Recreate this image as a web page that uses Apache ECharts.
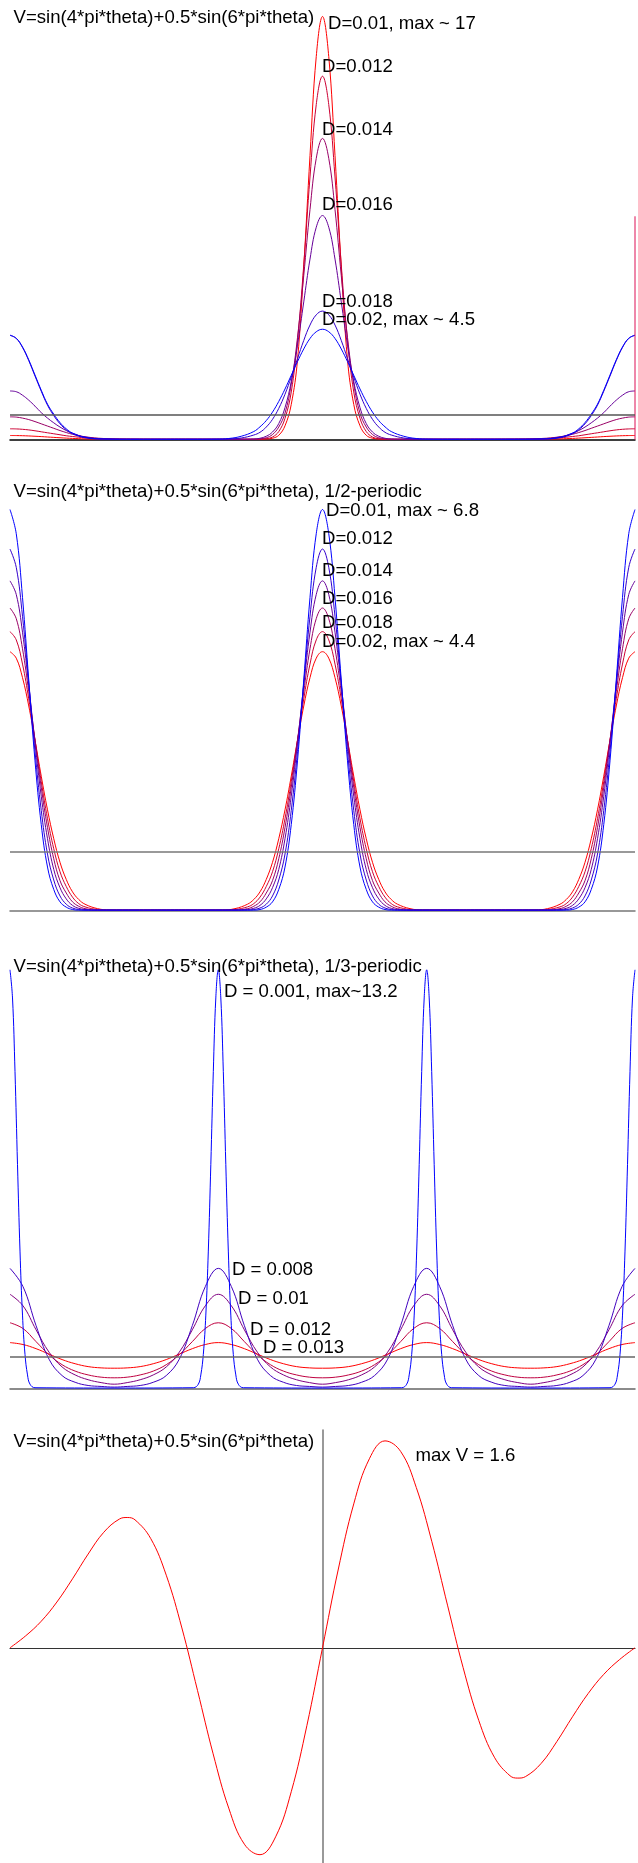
<!DOCTYPE html>
<html>
<head>
<meta charset="utf-8">
<title>V = sin(4*pi*theta)+0.5*sin(6*pi*theta)</title>
<script src="https://cdn.jsdelivr.net/npm/echarts@6/dist/echarts.min.js"></script>
<style>
  html, body { margin: 0; padding: 0; background: #fff; }
  #chart { width: 638px; height: 1863px; }
</style>
</head>
<body>
<div id="chart"></div>
<script>
// panel 1: periodic, D = 0.01 .. 0.02
const theta1 = [-0.5,-0.49,-0.48,-0.47,-0.46,-0.45,-0.44,-0.43,-0.42,-0.41,-0.4,-0.38,-0.35,-0.3,-0.25,-0.2,-0.17,-0.15,-0.13,-0.11,-0.1,-0.09,-0.08,-0.07,-0.06,-0.05,-0.04,-0.03,-0.02,-0.01,0,
  0.01,0.02,0.03,0.04,0.05,0.06,0.07,0.08,0.09,0.1,0.11,0.13,0.15,0.17,0.2,0.25,0.3,0.35,0.38,0.4,0.41,0.42,0.43,0.44,0.45,0.46,0.47,0.48,0.49,0.5]
const p1D010 = [0.16,0.158,0.152,0.143,0.13,0.117,0.1,0.085,0.07,0.056,0.044,0.025,0.012,0.01,0.01,0.01,0.01,0.01,0.01,0.01,0.01,0.02,0.05,0.17,0.55,1.41,3.2,6.93,11.41,15.39,17,
  15.39,11.41,6.93,3.2,1.41,0.55,0.17,0.05,0.02,0.01,0.01,0.01,0.01,0.01,0.01,0.01,0.01,0.012,0.025,0.044,0.056,0.07,0.085,0.1,0.117,0.13,0.143,0.152,0.158,0.16]
const p1D012 = [0.43,0.425,0.41,0.385,0.35,0.31,0.27,0.23,0.19,0.15,0.12,0.07,0.025,0.01,0.01,0.01,0.01,0.01,0.01,0.01,0.015,0.035,0.1,0.32,0.85,1.91,3.97,7.02,10.55,13.46,14.6,
  13.46,10.55,7.02,3.97,1.91,0.85,0.32,0.1,0.035,0.015,0.01,0.01,0.01,0.01,0.01,0.01,0.01,0.025,0.07,0.12,0.15,0.19,0.23,0.27,0.31,0.35,0.385,0.41,0.425,0.43]
const p1D014 = [0.91,0.9,0.86,0.8,0.72,0.63,0.54,0.45,0.36,0.28,0.21,0.11,0.04,0.015,0.01,0.01,0.01,0.01,0.01,0.012,0.025,0.07,0.2,0.5,1.06,2.23,4.1,6.59,9.24,11.3,12.1,
  11.3,9.24,6.59,4.1,2.23,1.06,0.5,0.2,0.07,0.025,0.012,0.01,0.01,0.01,0.01,0.01,0.015,0.04,0.11,0.21,0.28,0.36,0.45,0.54,0.63,0.72,0.8,0.86,0.9,0.91]
const p1D016 = [1.95,1.92,1.78,1.58,1.34,1.08,0.86,0.67,0.5,0.36,0.25,0.1,0.03,0.01,0.01,0.01,0.01,0.01,0.012,0.02,0.05,0.13,0.3,0.64,1.28,2.33,3.79,5.53,7.25,8.53,9,
  8.53,7.25,5.53,3.79,2.33,1.28,0.64,0.3,0.13,0.05,0.02,0.012,0.01,0.01,0.01,0.01,0.01,0.03,0.1,0.25,0.36,0.5,0.67,0.86,1.08,1.34,1.58,1.78,1.92,1.95]
const p1D018 = [4.19,4.06,3.7,3.17,2.55,1.94,1.38,0.96,0.63,0.39,0.23,0.07,0.015,0.01,0.01,0.01,0.01,0.02,0.06,0.18,0.29,0.5,0.81,1.25,1.82,2.51,3.25,3.98,4.6,5.01,5.16,
  5.01,4.6,3.98,3.25,2.51,1.82,1.25,0.81,0.5,0.29,0.18,0.06,0.02,0.01,0.01,0.01,0.01,0.015,0.07,0.23,0.39,0.63,0.96,1.38,1.94,2.55,3.17,3.7,4.06,4.19]
const p1D020 = [4.19,4.07,3.72,3.2,2.59,1.98,1.42,1.02,0.68,0.43,0.26,0.09,0.02,0.01,0.01,0.01,0.015,0.04,0.13,0.32,0.51,0.76,1.1,1.53,2.03,2.58,3.13,3.64,4.06,4.33,4.43,
  4.33,4.06,3.64,3.13,2.58,2.03,1.53,1.1,0.76,0.51,0.32,0.13,0.04,0.015,0.01,0.01,0.01,0.02,0.09,0.26,0.43,0.68,1.02,1.42,1.98,2.59,3.2,3.72,4.07,4.19]
const p1WallX = [0.5, 0.5]
const p1WallY = [8.97, 0]

// panel 2: 1/2-periodic
const theta2 = [-0.5,-0.49,-0.48,-0.47,-0.46,-0.45,-0.44,-0.43,-0.42,-0.41,-0.4,-0.39,-0.38,-0.36,-0.34,-0.3,-0.25,-0.2,-0.16,-0.14,-0.12,-0.11,-0.1,-0.09,-0.08,-0.07,-0.06,-0.05,-0.04,-0.03,-0.02,-0.01,0,
  0.01,0.02,0.03,0.04,0.05,0.06,0.07,0.08,0.09,0.1,0.11,0.12,0.14,0.16,0.2,0.25,0.3,0.34,0.36,0.38,0.39,0.4,0.41,0.42,0.43,0.44,0.45,0.46,0.47,0.48,0.49,0.5]
const p2D010 = [6.8,6.39,5.31,3.91,2.54,1.46,0.74,0.36,0.15,0.06,0.02,0.01,0.01,0.01,0.01,0.01,0.01,
  0.01,0.01,0.01,0.01,0.01,0.02,0.06,0.15,0.36,0.74,1.46,2.54,3.91,5.31,6.39,6.8,
  6.39,5.31,3.91,2.54,1.46,0.74,0.36,0.15,0.06,0.02,0.01,0.01,0.01,0.01,0.01,0.01,
  0.01,0.01,0.01,0.01,0.01,0.02,0.06,0.15,0.36,0.74,1.46,2.54,3.91,5.31,6.39,6.8]
const p2D012 = [6.13,5.82,4.99,3.86,2.7,1.7,0.96,0.52,0.25,0.11,0.045,0.02,0.01,0.01,0.01,0.01,0.01,
  0.01,0.01,0.01,0.01,0.02,0.045,0.11,0.25,0.52,0.96,1.7,2.7,3.86,4.99,5.82,6.13,
  5.82,4.99,3.86,2.7,1.7,0.96,0.52,0.25,0.11,0.045,0.02,0.01,0.01,0.01,0.01,0.01,
  0.01,0.01,0.01,0.01,0.02,0.045,0.11,0.25,0.52,0.96,1.7,2.7,3.86,4.99,5.82,6.13]
const p2D014 = [5.59,5.36,4.72,3.82,2.84,1.94,1.22,0.7,0.39,0.2,0.09,0.04,0.02,0.01,0.01,0.01,0.01,
  0.01,0.01,0.01,0.02,0.04,0.09,0.2,0.39,0.7,1.22,1.94,2.84,3.82,4.72,5.36,5.59,
  5.36,4.72,3.82,2.84,1.94,1.22,0.7,0.39,0.2,0.09,0.04,0.02,0.01,0.01,0.01,0.01,
  0.01,0.01,0.01,0.02,0.04,0.09,0.2,0.39,0.7,1.22,1.94,2.84,3.82,4.72,5.36,5.59]
const p2D016 = [5.13,4.95,4.44,3.71,2.89,2.09,1.41,0.88,0.51,0.3,0.15,0.075,0.035,0.01,0.01,0.01,0.01,
  0.01,0.01,0.01,0.035,0.075,0.15,0.3,0.51,0.88,1.41,2.09,2.89,3.71,4.44,4.95,5.13,
  4.95,4.44,3.71,2.89,2.09,1.41,0.88,0.51,0.3,0.15,0.075,0.035,0.01,0.01,0.01,0.01,
  0.01,0.01,0.01,0.035,0.075,0.15,0.3,0.51,0.88,1.41,2.09,2.89,3.71,4.44,4.95,5.13]
const p2D018 = [4.73,4.59,4.18,3.59,2.89,2.19,1.56,1.05,0.66,0.41,0.23,0.12,0.065,0.02,0.01,0.01,0.01,
  0.01,0.01,0.02,0.065,0.12,0.23,0.41,0.66,1.05,1.56,2.19,2.89,3.59,4.18,4.59,4.73,
  4.59,4.18,3.59,2.89,2.19,1.56,1.05,0.66,0.41,0.23,0.12,0.065,0.02,0.01,0.01,0.01,
  0.01,0.01,0.02,0.065,0.12,0.23,0.41,0.66,1.05,1.56,2.19,2.89,3.59,4.18,4.59,4.73]
const p2D020 = [4.39,4.28,3.95,3.47,2.89,2.28,1.71,1.22,0.82,0.53,0.32,0.19,0.11,0.035,0.012,0.01,0.01,
  0.01,0.012,0.035,0.11,0.19,0.32,0.53,0.82,1.22,1.71,2.28,2.89,3.47,3.95,4.28,4.39,
  4.28,3.95,3.47,2.89,2.28,1.71,1.22,0.82,0.53,0.32,0.19,0.11,0.035,0.012,0.01,0.01,
  0.01,0.012,0.035,0.11,0.19,0.32,0.53,0.82,1.22,1.71,2.28,2.89,3.47,3.95,4.28,4.39]

// panel 3: 1/3-periodic
const theta3 = [-0.5,-0.4792,-0.4583,-0.4375,-0.4167,-0.3958,-0.375,-0.3542,-0.3333,-0.3125,-0.2917,-0.2708,-0.25,-0.2292,-0.2083,-0.1875,-0.1667,
  -0.1458,-0.125,-0.1042,-0.0833,-0.0625,-0.0417,-0.0208,0,0.0208,0.0417,0.0625,0.0833,0.1042,0.125,0.1458,0.1667,
  0.1875,0.2083,0.2292,0.25,0.2708,0.2917,0.3125,0.3333,0.3542,0.375,0.3958,0.4167,0.4375,0.4583,0.4792,0.5]
const p3D008 = [3.77,3.2,1.98,0.93,0.42,0.21,0.11,0.08,0.06,0.08,0.11,0.21,0.42,0.93,1.98,3.2,3.77,
  3.2,1.98,0.93,0.42,0.21,0.11,0.08,0.06,0.08,0.11,0.21,0.42,0.93,1.98,3.2,3.77,
  3.2,1.98,0.93,0.42,0.21,0.11,0.08,0.06,0.08,0.11,0.21,0.42,0.93,1.98,3.2,3.77]
const p3D010 = [2.96,2.6,1.85,1.15,0.69,0.44,0.29,0.2,0.15,0.2,0.29,0.44,0.69,1.15,1.85,2.6,2.96,
  2.6,1.85,1.15,0.69,0.44,0.29,0.2,0.15,0.2,0.29,0.44,0.69,1.15,1.85,2.6,2.96,
  2.6,1.85,1.15,0.69,0.44,0.29,0.2,0.15,0.2,0.29,0.44,0.69,1.15,1.85,2.6,2.96]
const p3D012 = [2.07,1.89,1.48,1.07,0.76,0.56,0.44,0.37,0.35,0.37,0.44,0.56,0.76,1.07,1.48,1.89,2.07,
  1.89,1.48,1.07,0.76,0.56,0.44,0.37,0.35,0.37,0.44,0.56,0.76,1.07,1.48,1.89,2.07,
  1.89,1.48,1.07,0.76,0.56,0.44,0.37,0.35,0.37,0.44,0.56,0.76,1.07,1.48,1.89,2.07]
const p3D013 = [1.45,1.39,1.26,1.09,0.92,0.79,0.7,0.66,0.65,0.66,0.7,0.79,0.92,1.09,1.26,1.39,1.45,
  1.39,1.26,1.09,0.92,0.79,0.7,0.66,0.65,0.66,0.7,0.79,0.92,1.09,1.26,1.39,1.45,
  1.39,1.26,1.09,0.92,0.79,0.7,0.66,0.65,0.66,0.7,0.79,0.92,1.09,1.26,1.39,1.45]
const thetaSpike = [-0.5,-0.496,-0.492,-0.488,-0.484,-0.48,-0.476,-0.472,-0.468,-0.46,-0.3333,
  -0.2067,-0.1987,-0.1947,-0.1907,-0.1867,-0.1827,-0.1787,-0.1747,-0.1707,-0.1667,-0.1627,-0.1587,-0.1547,-0.1507,-0.1467,-0.1427,-0.1387,-0.1347,-0.1267,0,
  0.1267,0.1347,0.1387,0.1427,0.1467,0.1507,0.1547,0.1587,0.1627,0.1667,0.1707,0.1747,0.1787,0.1827,0.1867,0.1907,0.1947,0.1987,0.2067,0.3333,
  0.46,0.468,0.472,0.476,0.48,0.484,0.488,0.492,0.496,0.5]
const p3D001 = [13.1,12.22,9.92,7.01,4.31,2.31,1.08,0.44,0.15,0.04,0.03,
  0.04,0.15,0.44,1.08,2.31,4.31,7.01,9.92,12.22,13.1,12.22,9.92,7.01,4.31,2.31,1.08,0.44,0.15,0.04,0.03,
  0.04,0.15,0.44,1.08,2.31,4.31,7.01,9.92,12.22,13.1,12.22,9.92,7.01,4.31,2.31,1.08,0.44,0.15,0.04,0.03,
  0.04,0.15,0.44,1.08,2.31,4.31,7.01,9.92,12.22,13.1]

// panel 4: the potential itself
const theta4 = [-0.5,-0.475,-0.45,-0.425,-0.4,-0.375,-0.35,-0.325,-0.3125,-0.3,-0.275,-0.25,-0.225,-0.2,-0.175,-0.15,-0.125,-0.1,-0.075,-0.05,-0.025,0,
  0.025,0.05,0.075,0.1,0.125,0.15,0.175,0.2,0.225,0.25,0.275,0.3,0.3125,0.325,0.35,0.375,0.4,0.425,0.45,0.475,0.5]
const potV = [0,0.092,0.205,0.353,0.532,0.723,0.891,0.993,1.005,0.987,0.844,0.56,0.153,-0.329,-0.818,-1.237,-1.515,-1.596,-1.458,-1.11,-0.6,0,
  0.6,1.11,1.458,1.596,1.515,1.237,0.818,0.329,-0.153,-0.56,-0.844,-0.987,-1.005,-0.993,-0.891,-0.723,-0.532,-0.353,-0.205,-0.092,0]

const FONT = '"Liberation Sans", Arial, Helvetica, sans-serif'

function curve(panel, xs, ys, color, extra) {
  const s = {
    type: 'line',
    xAxisIndex: panel,
    yAxisIndex: panel,
    data: xs.map((x, i) => [x, ys[i]]),
    smooth: 0.4,
    symbol: 'none',
    silent: true,
    lineStyle: { color: color, width: 1 }
  }
  return Object.assign(s, extra || {})
}

function unitLine(color) {
  return {
    markLine: {
      silent: true,
      symbol: 'none',
      label: { show: false },
      lineStyle: { color: color, width: 1.5, type: 'solid' },
      data: [{ yAxis: 1 }]
    }
  }
}

function xAxisFor(panel, color, width) {
  return {
    gridIndex: panel, type: 'value', min: -0.5, max: 0.5,
    axisLine: { show: true, onZero: true, lineStyle: { color: color, width: width } },
    axisTick: { show: false }, axisLabel: { show: false }, splitLine: { show: false }
  }
}

function yAxisFor(panel, min, max, showLine) {
  return {
    gridIndex: panel, type: 'value', min: min, max: max,
    axisLine: { show: showLine, onZero: true, lineStyle: { color: '#777', width: 1.5 } },
    axisTick: { show: false }, axisLabel: { show: false }, splitLine: { show: false }
  }
}

const labels = [
  ['V=sin(4*pi*theta)+0.5*sin(6*pi*theta)', 13.5, 18],
  ['D=0.01, max ~ 17', 328, 24],
  ['D=0.012', 322, 67],
  ['D=0.014', 322, 129.5],
  ['D=0.016', 322, 205],
  ['D=0.018', 322, 302],
  ['D=0.02, max ~ 4.5', 322, 320],
  ['V=sin(4*pi*theta)+0.5*sin(6*pi*theta), 1/2-periodic', 13.5, 492],
  ['D=0.01, max ~ 6.8', 326, 510.5],
  ['D=0.012', 322, 539],
  ['D=0.014', 322, 570.5],
  ['D=0.016', 322, 599],
  ['D=0.018', 322, 623],
  ['D=0.02, max ~ 4.4', 322, 642],
  ['V=sin(4*pi*theta)+0.5*sin(6*pi*theta), 1/3-periodic', 13.5, 966.5],
  ['D = 0.001, max~13.2', 224, 992],
  ['D = 0.008', 232, 1270],
  ['D = 0.01', 238, 1299],
  ['D = 0.012', 250, 1330],
  ['D = 0.013', 263, 1348],
  ['V=sin(4*pi*theta)+0.5*sin(6*pi*theta)', 13.5, 1442],
  ['max V = 1.6', 415.5, 1455.5]
]

const chart = echarts.init(document.getElementById('chart'))

chart.setOption({
  animation: false,
  backgroundColor: '#fff',
  grid: [
    { left: 10, width: 625, top: 11.5, height: 428 },
    { left: 10, width: 625, top: 497.7, height: 413 },
    { left: 10, width: 625, top: 941, height: 448 },
    { left: 10, width: 625, top: 1430, height: 433 }
  ],
  xAxis: [
    xAxisFor(0, '#000', 1.5),
    xAxisFor(1, '#777', 1.5),
    xAxisFor(2, '#666', 1.5),
    xAxisFor(3, '#333', 1.2)
  ],
  yAxis: [
    yAxisFor(0, 0, 17.2, false),
    yAxisFor(1, 0, 7, false),
    yAxisFor(2, 0, 14, false),
    yAxisFor(3, -1.66, 1.68, true)
  ],
  series: [
    curve(0, theta1, p1D010, '#ff0000', unitLine('#555')),
    curve(0, theta1, p1D012, '#cc0033'),
    curve(0, theta1, p1D014, '#990066'),
    curve(0, theta1, p1D016, '#660099'),
    curve(0, theta1, p1D018, '#3300cc'),
    curve(0, theta1, p1D020, '#0000ff'),
    curve(0, p1WallX, p1WallY, '#dd1155', { smooth: false, clip: false }),

    curve(1, theta2, p2D020, '#ff0000', unitLine('#777')),
    curve(1, theta2, p2D018, '#cc0033'),
    curve(1, theta2, p2D016, '#990066'),
    curve(1, theta2, p2D014, '#660099'),
    curve(1, theta2, p2D012, '#3300cc'),
    curve(1, theta2, p2D010, '#0000ff'),

    curve(2, theta3, p3D013, '#ff0000', unitLine('#666')),
    curve(2, theta3, p3D012, '#bf0040'),
    curve(2, theta3, p3D010, '#800080'),
    curve(2, theta3, p3D008, '#4000bf'),
    curve(2, thetaSpike, p3D001, '#0000ff'),

    curve(3, theta4, potV, '#ff0000')
  ],
  graphic: labels.map(l => ({
    type: 'text',
    x: l[1],
    y: l[2],
    z: 100,
    silent: true,
    style: {
      text: l[0],
      fill: '#000',
      font: '18.6px ' + FONT,
      align: 'left',
      verticalAlign: 'middle',
      textAlign: 'left',
      textVerticalAlign: 'middle'
    }
  }))
})
</script>
</body>
</html>
